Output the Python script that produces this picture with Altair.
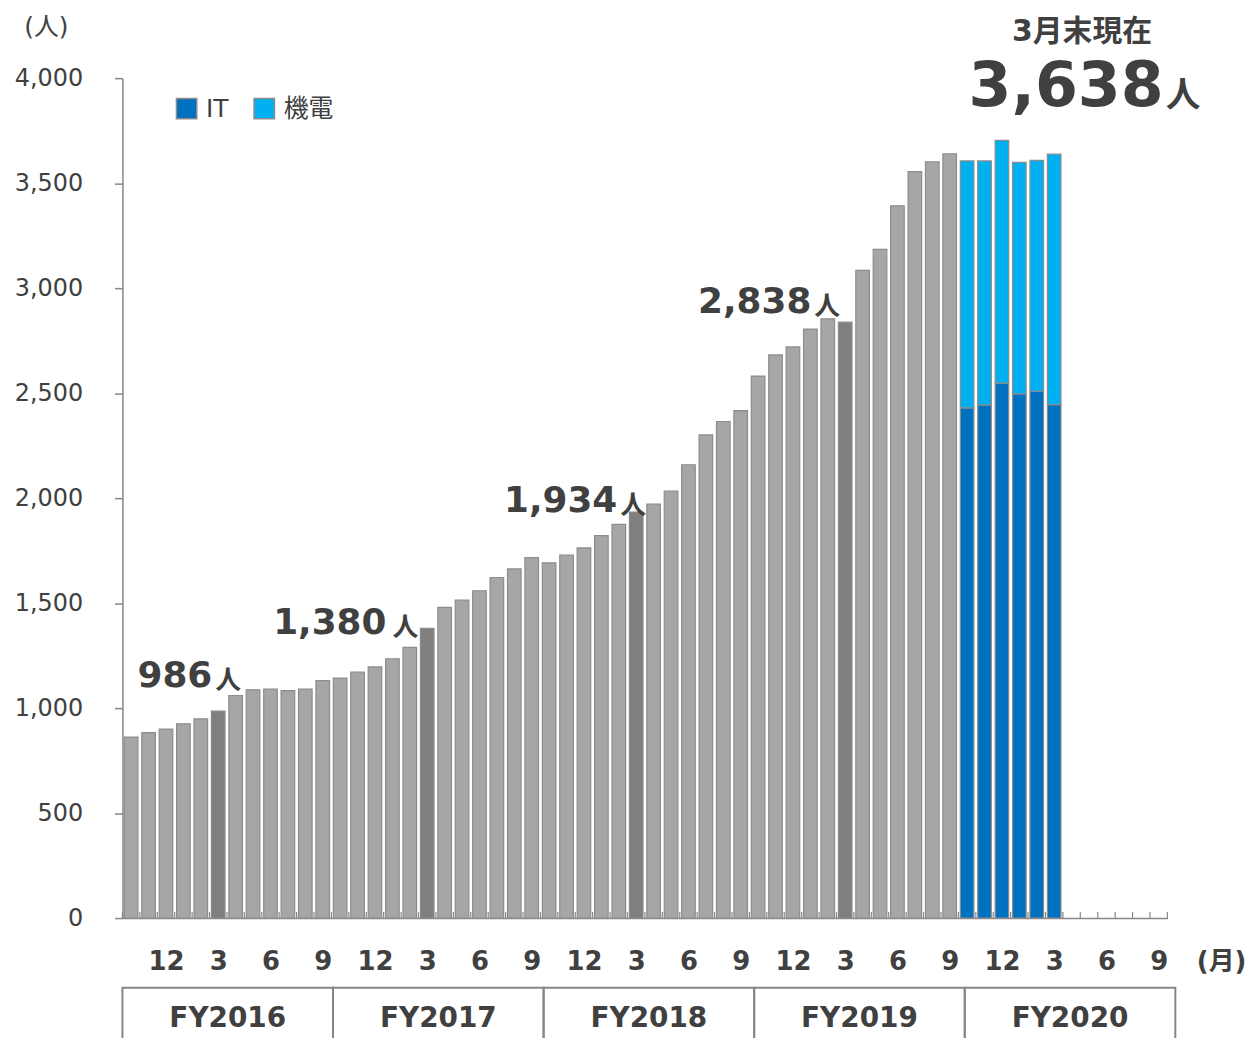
import json
import altair as alt
import pandas as pd

# ---------------- data ----------------
fiscal_years = ["FY2016", "FY2017", "FY2018", "FY2019", "FY2020"]
fy_month_names = [10, 11, 12, 1, 2, 3, 4, 5, 6, 7, 8, 9]
month_tick_labels = ["", "", "12", "", "", "3", "", "", "6", "", "", "9"] * 5

fy2016 = [862, 883, 900, 925, 949, 986, 1060, 1087, 1090, 1083, 1090, 1131]
fy2017 = [1143, 1172, 1196, 1235, 1289, 1380, 1480, 1514, 1559, 1622, 1663, 1717]
fy2018 = [1692, 1729, 1763, 1821, 1875, 1934, 1971, 2033, 2159, 2301, 2365, 2417]
fy2019 = [2581, 2682, 2720, 2805, 2854, 2838, 3085, 3185, 3392, 3555, 3602, 3640]
fy2020_total = [3606, 3606, 3704, 3599, 3608, 3638]
fy2020_it = [2430, 2444, 2548, 2496, 2509, 2445]

y_tick_values = [0, 500, 1000, 1500, 2000, 2500, 3000, 3500, 4000]

ann_idx = [5, 17, 29, 41]
ann_values = [986, 1380, 1934, 2838]
ann_texts = ["986", "1,380", "1,934", "2,838"]
ann_dx = [-6, -41, -19, -34]
ann_dy = [-24, 6, 0, -9]
ann_unit_gap = [3, 6, 3, 3]

main_idx = 53
main_value = 3638
main_text = "3,638"
main_caption = "3月末現在"
unit = "人"

# ---------------- styling ----------------
TEXT = "#404040"
AXIS_GRAY = "#868686"
FONT = "DejaVu Sans, Noto Sans CJK JP"
CJK = "Noto Sans CJK JP"
N_SLOTS = 60
GAP = 0.11              # half gap between bars, in month units
TABLE_STRETCH = 1.0076  # FY table below the axis is slightly wider than the axis

kinds = ["IT", "機電", "通常", "強調"]
kind_colors = ["#0070C0", "#00B0F0", "#A6A6A6", "#7F7F7F"]

rows = []
gray_values = fy2016 + fy2017 + fy2018 + fy2019
for i, v in enumerate(gray_values):
    m = fy_month_names[i % 12]
    rows.append({"idx": i, "kind": "強調" if m == 3 else "通常", "y0": 0, "y1": v})
for j, (tot, it) in enumerate(zip(fy2020_total, fy2020_it)):
    i = len(gray_values) + j
    rows.append({"idx": i, "kind": "IT", "y0": 0, "y1": it})
    rows.append({"idx": i, "kind": "機電", "y0": it, "y1": tot})
bars_df = pd.DataFrame(rows)

xscale = alt.Scale(domain=[0, N_SLOTS], nice=False, zero=False)
yscale = alt.Scale(domain=[0, 4000], nice=False, zero=True)

label_values = [i + 0.5 for i, t in enumerate(month_tick_labels) if t]
label_expr = json.dumps(month_tick_labels, ensure_ascii=False) + "[floor(datum.value)]"

x_axis = alt.Axis(
    values=label_values, labelExpr=label_expr, labelAngle=0, ticks=False, tickSize=0,
    labelPadding=44, labelBaseline="middle", labelAlign="center", labelFont=FONT,
    labelFontSize=26, labelFontWeight="bold", labelColor=TEXT, labelOverlap=False,
    labelBound=False, labelFlush=False, domainColor=AXIS_GRAY, domainWidth=1.5, grid=False,
    title="(月)", titleX=1104, titleY=44, titleAlign="center", titleBaseline="middle",
    titleFont=FONT, titleFontSize=26, titleFontWeight="bold", titleColor=TEXT,
)
y_axis = alt.Axis(
    values=y_tick_values, labelExpr="format(datum.value, ',')", tickSize=8,
    tickColor=AXIS_GRAY, tickWidth=1.5, domainColor=AXIS_GRAY, domainWidth=1.5,
    labelFont=FONT, labelFontSize=24, labelColor=TEXT, labelPadding=32, grid=False,
    title="(人)", titleAngle=0, titleX=-77, titleY=-52, titleAlign="center",
    titleBaseline="middle", titleFont=FONT, titleFontSize=25, titleFontWeight="normal",
    titleColor=TEXT,
)

bars = alt.Chart(bars_df).transform_calculate(
    x0=f"datum.idx + {GAP}", x1=f"datum.idx + 1 - {GAP}"
).mark_bar(stroke="#8C8C8C", strokeWidth=1.2).encode(
    x=alt.X("x0:Q", scale=xscale, axis=x_axis),
    x2="x1:Q",
    y=alt.Y("y1:Q", scale=yscale, axis=y_axis),
    y2="y0:Q",
    color=alt.Color(
        "kind:N",
        scale=alt.Scale(domain=kinds, range=kind_colors),
        legend=alt.Legend(
            values=["IT", "機電"], orient="none", legendX=52, legendY=18,
            direction="horizontal", title=None, symbolType="square", symbolSize=420,
            symbolStrokeColor="#8C8C8C", symbolStrokeWidth=1.5, labelFont=FONT,
            labelFontSize=25, labelColor=TEXT, columnPadding=22, labelOffset=7,
            padding=0,
        ),
    ),
)

# small inward ticks at month boundaries
tick_df = pd.DataFrame({"pos": list(range(N_SLOTS + 1))})
ticks = alt.Chart(tick_df).mark_rule(color=AXIS_GRAY, strokeWidth=1.2).encode(
    x=alt.X("pos:Q", scale=xscale, axis=x_axis),
    y=alt.value(844),
    y2=alt.value(838),
)

layers = [ticks, bars]


def anchored_text(df, text_enc, **mark_kw):
    return alt.Chart(df).transform_calculate(
        xc="datum.idx + 0.5"
    ).mark_text(color=TEXT, **mark_kw).encode(
        x=alt.X("xc:Q", scale=xscale, axis=x_axis),
        y=alt.Y("value:Q", scale=yscale, axis=y_axis),
        text=text_enc,
    )


ann_df = pd.DataFrame({"idx": ann_idx, "value": ann_values, "text": ann_texts})
for k in range(len(ann_idx)):
    d = ann_df.iloc[[k]]
    layers.append(anchored_text(
        d, "text:N", align="right", baseline="alphabetic", dx=ann_dx[k], dy=ann_dy[k],
        font=FONT, fontWeight="bold", fontSize=36))
    layers.append(anchored_text(
        d, alt.value(unit), align="left", baseline="alphabetic",
        dx=ann_dx[k] + ann_unit_gap[k], dy=ann_dy[k] + 2, font=CJK, fontWeight="bold",
        fontSize=26))

main_df = pd.DataFrame({"idx": [main_idx], "value": [main_value], "text": [main_text],
                        "cap": [main_caption]})
layers.append(anchored_text(
    main_df, "text:N", align="right", baseline="alphabetic", dx=110, dy=-48,
    font=FONT, fontWeight="bold", fontSize=62))
layers.append(anchored_text(
    main_df, alt.value(unit), align="left", baseline="alphabetic", dx=112, dy=-47,
    font=CJK, fontWeight="bold", fontSize=35))
layers.append(anchored_text(
    main_df, "cap:N", align="center", baseline="middle", dx=28, dy=-123,
    font=FONT, fontWeight="bold", fontSize=30))

# fiscal-year table below the axis
fy_df = pd.DataFrame({
    "fy": fiscal_years,
    "start": [12 * k for k in range(len(fiscal_years))],
    "end": [12 * (k + 1) for k in range(len(fiscal_years))],
})
fy_rects = alt.Chart(fy_df).transform_calculate(
    s=f"datum.start * {TABLE_STRETCH}", e=f"datum.end * {TABLE_STRETCH}"
).mark_rect(fill="white", fillOpacity=0, stroke=AXIS_GRAY, strokeWidth=2).encode(
    x=alt.X("s:Q", scale=xscale, axis=x_axis),
    x2="e:Q",
    y=alt.value(914),
    y2=alt.value(1010),
)
fy_text = alt.Chart(fy_df).transform_calculate(
    mid=f"(datum.start + datum.end) / 2 * {TABLE_STRETCH}"
).mark_text(
    font=FONT, fontWeight="bold", fontSize=28, color=TEXT, baseline="middle"
).encode(
    x=alt.X("mid:Q", scale=xscale, axis=x_axis),
    y=alt.value(945),
    text="fy:N",
)
layers += [fy_rects, fy_text]

chart = alt.layer(*layers).properties(
    width=1050,
    height=844,
    autosize=alt.AutoSizeParams(type="none"),
    padding={"left": 115, "top": 68, "right": 78, "bottom": 118},
).configure(background="white").configure_view(strokeWidth=0)

chart.save("out.html", embed_options={"renderer": "svg", "actions": False})
